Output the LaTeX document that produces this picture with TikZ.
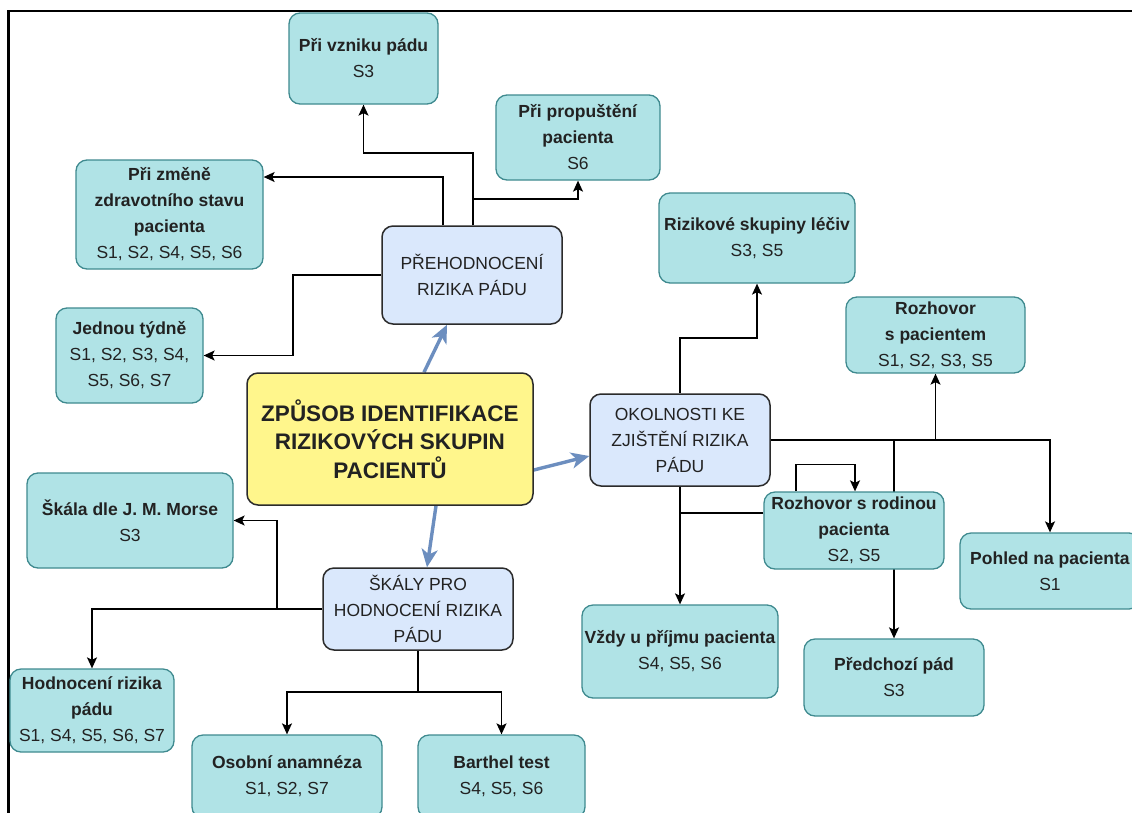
\documentclass[tikz,border=0pt]{standalone}
\usepackage{fontspec}
\setmainfont{Liberation Sans}
\usetikzlibrary{arrows.meta,backgrounds}
\definecolor{tealF}{HTML}{B0E3E6}
\definecolor{tealB}{HTML}{3F8A8F}
\definecolor{blueF}{HTML}{DAE8FC}
\definecolor{darkB}{HTML}{2B2B2B}
\definecolor{yelF}{HTML}{FFF68C}
\definecolor{blueA}{HTML}{6C8EBF}
\definecolor{txt}{HTML}{222222}
\tikzset{
  boxbase/.style={rounded corners=11pt, align=center, inner sep=2pt, text=txt,
    font=\fontsize{17.5}{26}\selectfont},
  tbox/.style={boxbase, draw=tealB, fill=tealF, line width=1.3pt},
  bbox/.style={boxbase, draw=darkB, fill=blueF, line width=1.5pt},
  ybox/.style={boxbase, draw=darkB, fill=yelF, line width=1.5pt,
    font=\fontsize{22.5}{28.5}\selectfont\bfseries},
  conn/.style={line width=1.4pt, draw=black, -{Stealth[length=11pt,width=10pt,inset=2.5pt]}},
  plainline/.style={line width=1.4pt, draw=black},
  barrow/.style={line width=3.4pt, draw=blueA, -{Stealth[length=18pt,width=16pt,inset=5pt]}}
}
\begin{document}
\begin{tikzpicture}[x=1pt,y=-1pt]
\useasboundingbox (0,0) rectangle (1132,812);
\clip (0,0) rectangle (1132,812);
\begin{scope}[on background layer]
\fill[white] (0,0) rectangle (1132,812);
\end{scope}
\draw[line width=2.5pt] (8.5,830) -- (8.5,11) -- (1150,11);

\node[tbox, minimum width=149pt, minimum height=91pt] (vznik) at (363.5,58.5) {\textbf{Při vzniku pádu}\\S3};
\node[tbox, minimum width=164pt, minimum height=85pt] (propust) at (578,137.5) {\textbf{Při propuštění}\\\textbf{pacienta}\\S6};
\node[tbox, minimum width=187pt, minimum height=109pt] (zmena) at (169.5,214.5) {\textbf{Při změně}\\\textbf{zdravotního stavu}\\\textbf{pacienta}\\S1, S2, S4, S5, S6};
\node[tbox, minimum width=196pt, minimum height=90pt] (lecivo) at (757,238) {\textbf{Rizikové skupiny léčiv}\\S3, S5};
\node[bbox, minimum width=180pt, minimum height=98pt] (prehod) at (472,275) {PŘEHODNOCENÍ\\RIZIKA PÁDU};
\node[tbox, minimum width=179pt, minimum height=76pt] (rozhpac) at (935.5,335) {\textbf{Rozhovor}\\\textbf{s pacientem}\\S1, S2, S3, S5};
\node[tbox, minimum width=147pt, minimum height=95pt] (tyden) at (129.5,355.5) {\textbf{Jednou týdně}\\S1, S2, S3, S4,\\S5, S6, S7};
\node[ybox, minimum width=286pt, minimum height=132pt] (hlavni) at (390,439) {ZPŮSOB IDENTIFIKACE\\RIZIKOVÝCH SKUPIN\\PACIENTŮ};
\node[bbox, minimum width=180pt, minimum height=92pt] (okol) at (680,440) {OKOLNOSTI KE\\ZJIŠTĚNÍ RIZIKA\\PÁDU};
\node[tbox, minimum width=206pt, minimum height=95pt] (morse) at (130,520.5) {\textbf{Škála dle J. M. Morse}\\S3};
\node[tbox, minimum width=180pt, minimum height=77pt] (rodina) at (854,530.5) {\textbf{Rozhovor s rodinou}\\\textbf{pacienta}\\S2, S5};
\node[bbox, minimum width=190pt, minimum height=82pt] (skaly) at (418,609) {ŠKÁLY PRO\\HODNOCENÍ RIZIKA\\PÁDU};
\node[tbox, minimum width=180pt, minimum height=76pt] (pohled) at (1050,571) {\textbf{Pohled na pacienta}\\S1};
\node[tbox, minimum width=196pt, minimum height=93pt] (prijem) at (680,651.5) {\textbf{Vždy u příjmu pacienta}\\S4, S5, S6};
\node[tbox, minimum width=180pt, minimum height=77pt] (predch) at (894,677.5) {\textbf{Předchozí pád}\\S3};
\node[tbox, minimum width=164pt, minimum height=83pt] (hodnoc) at (92,710.5) {\textbf{Hodnocení rizika}\\\textbf{pádu}\\S1, S4, S5, S6, S7};
\node[tbox, minimum width=190pt, minimum height=83pt] (anamn) at (287,776.5) {\textbf{Osobní anamnéza}\\S1, S2, S7};
\node[tbox, minimum width=167pt, minimum height=83pt] (barthel) at (501.5,776.5) {\textbf{Barthel test}\\S4, S5, S6};

\begin{scope}[on background layer]
% from PREHODNOCENI
\draw[conn] (443,0 |- prehod.north) -- (443,177) -- (zmena.east |- 0,177);
\draw[conn] (473,0 |- prehod.north) -- (473,153) -| (vznik.south);
\draw[conn] (473,0 |- prehod.north) -- (473,199) -| (propust.south);
\draw[conn] (prehod.west) -| (293,355.5) -- (tyden.east);
% from OKOLNOSTI
\draw[conn] (okol.north) |- (lecivo.south |- 0,338) -- (lecivo.south);
\draw[conn] (okol.east) -| (rozhpac.south);
\draw[conn] (okol.east) -| (pohled.north);
\draw[conn] (okol.east) -| (predch.north);
\draw[conn] (okol.south) -- (prijem.north);
\draw[plainline] (rodina.west |- 0,513) -- (680,513);
\draw[conn] ([xshift=-58pt]rodina.north) -- ++(0,-27) -| ([xshift=1pt]rodina.north);
% from SKALY
\draw[conn] (skaly.west) -- (277,609) |- (morse.east);
\draw[conn] (skaly.west) -| (hodnoc.north);
\draw[conn] (skaly.south) -- (418,692) -| (anamn.north);
\draw[conn] (skaly.south) -- (418,692) -| (barthel.north);
% blue arrows from main node
\draw[barrow] (424,0 |- hlavni.north) -- (447,0 |- prehod.south);
\draw[barrow] (hlavni.east |- 0,470) -- (okol.west |- 0,456);
\draw[barrow] (436,0 |- hlavni.south) -- (427,0 |- skaly.north);
\end{scope}
\end{tikzpicture}
\end{document}
